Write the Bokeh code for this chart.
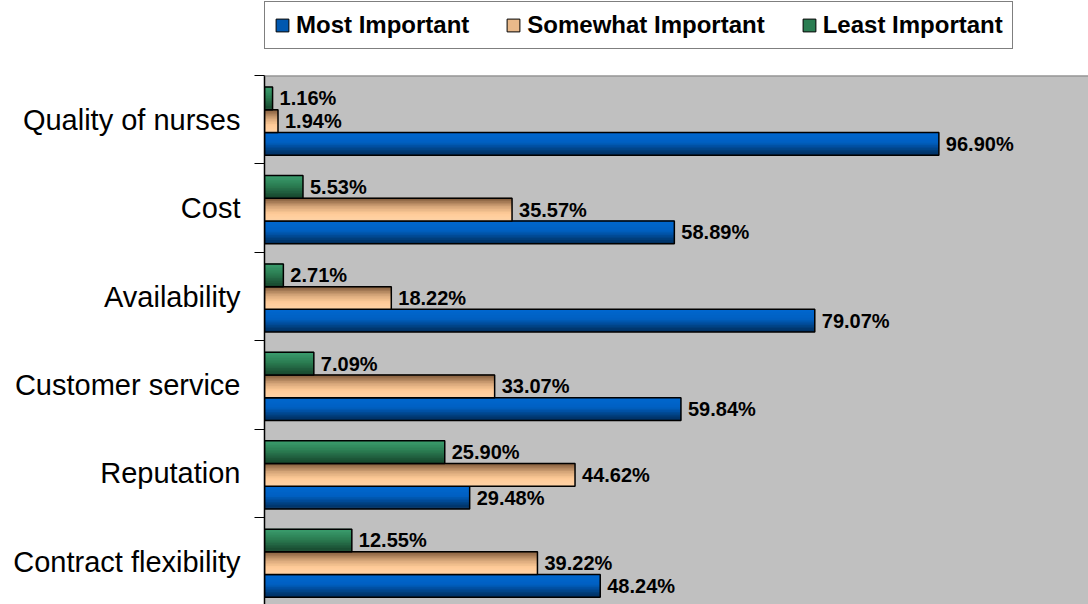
from bokeh.plotting import figure
from bokeh.layouts import column
from bokeh.models import ColumnDataSource, Range1d, FixedTicker, Legend, LegendItem, Span
from bokeh.core.properties import value
from bokeh.embed import file_html
from bokeh.resources import INLINE
import numpy as np

# ---- data ----
categories = ["Quality of nurses", "Cost", "Availability", "Customer service",
              "Reputation", "Contract flexibility"]
most_important = [96.90, 58.89, 79.07, 59.84, 29.48, 48.24]
somewhat_important = [1.94, 35.57, 18.22, 33.07, 44.62, 39.22]
least_important = [1.16, 5.53, 2.71, 7.09, 25.90, 12.55]
series_names = ["Most Important", "Somewhat Important", "Least Important"]

# ---- style ----
FONT = "Liberation Sans"
n = len(categories)
centers = [n - i - 0.5 for i in range(n)]
bar_h = 0.257
offsets = [-0.274, -0.017, 0.24]
solid = ["#0058B0", "#E9B98A", "#2A7D52"]
gradients = [
    [(0.0, "#0068D0"), (0.45, "#0060C2"), (1.0, "#002C58")],
    [(0.0, "#7A5536"), (0.4, "#D6A679"), (0.7, "#FFCB98"), (1.0, "#FFD3A6")],
    [(0.0, "#3CA070"), (0.5, "#2A7A50"), (1.0, "#16432B")],
]


def hex2rgb(h):
    h = h.lstrip("#")
    return np.array([int(h[i:i + 2], 16) for i in (0, 2, 4)], dtype=float)


def interp_color(stops, t):
    for (t0, c0), (t1, c1) in zip(stops[:-1], stops[1:]):
        if t0 <= t <= t1:
            f = 0 if t1 == t0 else (t - t0) / (t1 - t0)
            c = hex2rgb(c0) * (1 - f) + hex2rgb(c1) * f
            return "#%02x%02x%02x" % tuple(int(round(v)) for v in c)
    return stops[-1][1]


# ---- legend strip (separate small figure above the chart) ----
LEG_H = 73
leg = figure(width=1088, height=LEG_H, output_backend="svg", toolbar_location=None,
             x_range=Range1d(0, 1), y_range=Range1d(0, 1),
             x_axis_location=None, y_axis_location=None,
             min_border=0, min_border_left=0, min_border_right=0,
             min_border_top=0, min_border_bottom=0)
leg.outline_line_color = None
leg.background_fill_color = "white"
leg.border_fill_color = "white"
leg.grid.visible = False
leg_items = []
for si, name in enumerate(series_names):
    # keyed to the legend only: the bar sits outside the visible range
    r = leg.hbar(y=[-10], right=[0.5], left=0, height=0.5,
                 fill_color=solid[si], line_color="black", line_width=1)
    leg_items.append(LegendItem(label=name, renderers=[r]))
legend = Legend(
    items=leg_items, location=(0, 24), orientation="horizontal",
    border_line_color="black", border_line_width=1,
    background_fill_color="white", background_fill_alpha=1.0,
    label_text_font=FONT, label_text_font_style="bold", label_text_font_size="24px",
    label_text_color="black",
    glyph_width=16, glyph_height=16, label_standoff=6, spacing=36, padding=9, margin=0,
)
leg.add_layout(legend)

# ---- main chart ----
p = figure(width=1088, height=604 - LEG_H, output_backend="svg", toolbar_location=None,
           x_range=Range1d(0, 118.4), y_range=Range1d(0.016, n),
           x_axis_location=None,
           min_border_left=264, min_border_right=0, min_border_top=2, min_border_bottom=0)
p.background_fill_color = "#C0C0C0"
p.border_fill_color = "white"
p.outline_line_color = None
p.grid.visible = False

values_all = [most_important, somewhat_important, least_important]
N_STRIPS = 14
for si, vals in enumerate(values_all):
    ys = [c + offsets[si] for c in centers]
    src = ColumnDataSource(dict(y=ys, right=vals))
    # gradient strips
    for k in range(N_STRIPS):
        t = (k + 0.5) / N_STRIPS
        sy = [y + bar_h / 2 - t * bar_h for y in ys]
        ssrc = ColumnDataSource(dict(y=sy, right=vals))
        h = bar_h / N_STRIPS * (1.6 if k < N_STRIPS - 1 else 1.0)
        p.hbar(y="y", right="right", left=0, height=h, source=ssrc,
               fill_color=interp_color(gradients[si], t), line_color=None)
    # outline
    p.hbar(y="y", right="right", left=0, height=bar_h, source=src,
           fill_color=None, line_color="black", line_width=1.5)
    # value labels
    lsrc = ColumnDataSource(dict(x=vals, y=ys, t=["%.2f%%" % v for v in vals]))
    p.text(x="x", y="y", text="t", source=lsrc, x_offset=7, text_baseline="middle",
           text_align="left", text_font=value(FONT), text_font_style="bold",
           text_font_size="20px", text_color="black")

# top border of plot area
p.add_layout(Span(location=n, dimension="width", line_color="#808080", line_width=2))

# y axis with categories between boundary ticks
yax = p.yaxis[0]
yax.ticker = FixedTicker(ticks=centers, minor_ticks=[float(i) for i in range(n + 1)])
yax.major_label_overrides = {c: cat for c, cat in zip(centers, categories)}
yax.major_tick_out = 0
yax.major_tick_in = 0
yax.minor_tick_out = 10
yax.minor_tick_in = 0
yax.minor_tick_line_color = "black"
yax.axis_line_color = "black"
yax.axis_line_width = 1.5
yax.major_label_text_font = FONT
yax.major_label_text_font_size = "29px"
yax.major_label_text_color = "black"
yax.major_label_standoff = 14

layout = column(leg, p, spacing=0)
open("out.html", "w").write(file_html(layout, INLINE))
